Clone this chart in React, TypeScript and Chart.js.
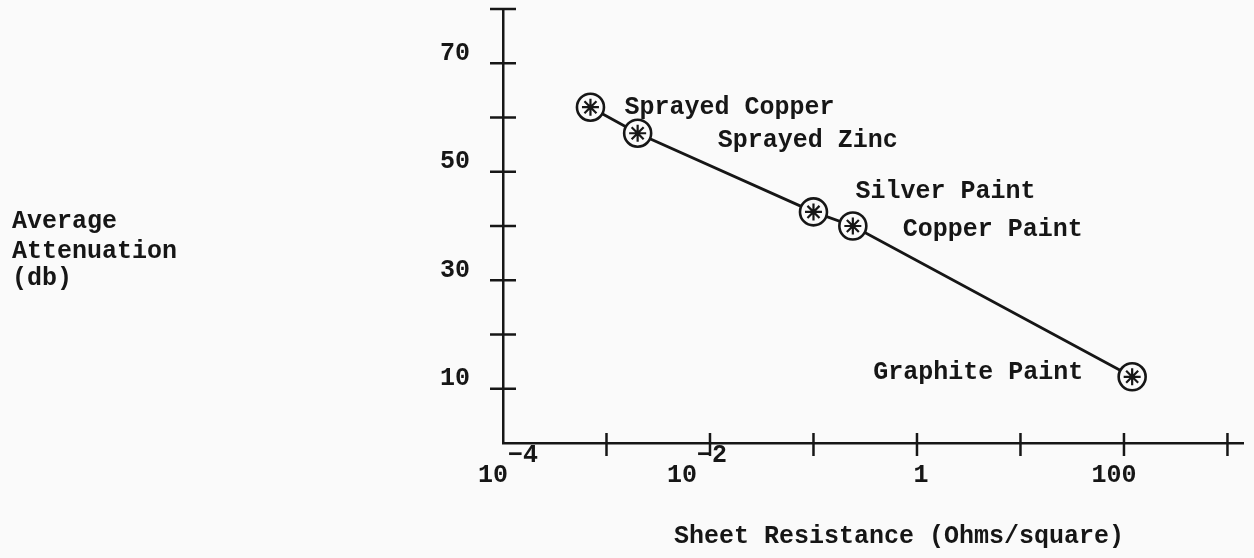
import React, { useEffect, useRef } from "react";
import { Chart, registerables } from "chart.js";

Chart.register(...registerables);

// ---- data ----
const materials = ["Sprayed Copper", "Sprayed Zinc", "Silver Paint", "Copper Paint", "Graphite Paint"];
const sheetResistance = [7e-4, 2e-3, 0.1, 0.24, 120];
const attenuation = [61.9, 57.1, 42.6, 40.0, 12.2];

const yTickValues = [10, 20, 30, 40, 50, 60, 70, 80];
const yTickLabels = ["10", "", "30", "", "50", "", "70", ""];

const xTickValues = [1e-4, 1e-3, 1e-2, 1e-1, 1, 10, 100, 1000];
const xTickBases = ["10", "", "10", "", "1", "", "100", ""];
const xTickExps = ["\u22124", "", "\u22122", "", "", "", "", ""];

const yTitleLines = ["Average", "Attenuation", "(db)"];
const xTitle = "Sheet Resistance (Ohms/square)";

// ---- style ----
const FONT = '"Liberation Mono", "DejaVu Sans Mono", monospace';
const INK = "#161616";
const PAPER = "#fafafa";
const FONT_SIZE = 25;

// typewritten label nudges (px) relative to each x tick
const xLabelNudge = [5, 0, -13, 0, 4, 0, -10, 0];

// label placement relative to each marker: [dx, dy, align]
const labelPlacement: [number, number, CanvasTextAlign][] = [
  [34, 1, "left"],
  [80, 7, "left"],
  [42, -20, "left"],
  [50, 4, "left"],
  [-49, -4, "right"],
];

const paperPlugin = {
  id: "paper",
  beforeDraw(chart: any) {
    const { ctx, width, height } = chart;
    ctx.save();
    ctx.fillStyle = PAPER;
    ctx.fillRect(0, 0, width, height);
    ctx.restore();
  },
};

const decorPlugin = {
  id: "decor",
  afterDraw(chart: any) {
    const ctx = chart.ctx as CanvasRenderingContext2D;
    const xs = chart.scales.x;
    const ys = chart.scales.y;
    const area = chart.chartArea;
    ctx.save();
    ctx.strokeStyle = INK;
    ctx.fillStyle = INK;
    ctx.lineWidth = 2.5;

    // y tick marks (crossing the axis)
    yTickValues.forEach((v) => {
      const y = ys.getPixelForValue(v);
      ctx.beginPath();
      ctx.moveTo(area.left - 13, y);
      ctx.lineTo(area.left + 13, y);
      ctx.stroke();
    });

    // x tick marks (crossing the axis)
    xTickValues.forEach((v, i) => {
      if (i === 0) return;
      const x = xs.getPixelForValue(v);
      ctx.beginPath();
      ctx.moveTo(x, area.bottom - 10);
      ctx.lineTo(x, area.bottom + 13);
      ctx.stroke();
    });

    ctx.font = `bold ${FONT_SIZE}px ${FONT}`;
    ctx.textBaseline = "middle";

    // y tick labels (sitting a little above their ticks)
    ctx.textAlign = "right";
    yTickValues.forEach((v, i) => {
      const lab = yTickLabels[i];
      if (!lab) return;
      ctx.fillText(lab, area.left - 33, ys.getPixelForValue(v) - 10);
    });

    // x tick labels with raised exponents
    xTickValues.forEach((v, i) => {
      const base = xTickBases[i];
      if (!base) return;
      const exp = xTickExps[i];
      const wb = ctx.measureText(base).width;
      const we = exp ? ctx.measureText(exp).width : 0;
      const x = xs.getPixelForValue(v) + xLabelNudge[i];
      const start = x - (wb + we) / 2;
      ctx.textAlign = "left";
      ctx.fillText(base, start, area.bottom + 33);
      if (exp) ctx.fillText(exp, start + wb, area.bottom + 13);
    });

    // y axis title (left, multi-line)
    ctx.textAlign = "left";
    const yTitleY = [222, 252, 279];
    yTitleLines.forEach((line, i) => ctx.fillText(line, 12, yTitleY[i]));

    // x axis title
    ctx.textAlign = "center";
    ctx.fillText(xTitle, 899, area.bottom + 94);

    // point annotations
    materials.forEach((name, i) => {
      const px = xs.getPixelForValue(sheetResistance[i]);
      const py = ys.getPixelForValue(attenuation[i]);
      const [dx, dy, align] = labelPlacement[i];
      ctx.textAlign = align;
      ctx.fillText(name, px + dx, py + dy);
    });

    ctx.restore();
  },
};

export default function App() {
  const canvasRef = useRef<HTMLCanvasElement | null>(null);

  useEffect(() => {
    const canvas = canvasRef.current;
    if (!canvas) return;
    const points = sheetResistance.map((x, i) => ({ x, y: attenuation[i] }));
    const chart = new Chart(canvas, {
      type: "line",
      data: {
        datasets: [
          {
            data: points,
            borderColor: INK,
            borderWidth: 2.8,
            tension: 0,
            pointStyle: "circle",
            pointRadius: 13.5,
            pointBackgroundColor: PAPER,
            pointBorderColor: INK,
            pointBorderWidth: 2.6,
            order: 1,
          },
          {
            data: points,
            showLine: false,
            pointStyle: "star",
            pointRadius: 8.5,
            pointBorderColor: INK,
            pointBackgroundColor: INK,
            pointBorderWidth: 2.2,
            order: 0,
          },
        ],
      },
      options: {
        animation: false,
        responsive: false,
        events: [],
        layout: { autoPadding: false, padding: { left: 0, top: 9, right: 11, bottom: 0 } },
        plugins: {
          legend: { display: false },
          tooltip: { enabled: false },
        },
        scales: {
          x: {
            type: "logarithmic",
            min: 1e-4,
            max: 1413,
            ticks: { display: false },
            grid: { display: false, drawTicks: false },
            border: { display: true, color: INK, width: 2.5 },
            afterFit: (s: any) => {
              s.height = 115;
            },
          },
          y: {
            type: "linear",
            min: 0,
            max: 80,
            ticks: { display: false, stepSize: 10 },
            grid: { display: false, drawTicks: false },
            border: { display: true, color: INK, width: 2.5 },
            afterFit: (s: any) => {
              s.width = 503;
            },
          },
        },
      },
      plugins: [paperPlugin, decorPlugin],
    } as any);
    return () => chart.destroy();
  }, []);

  return (
    <div style={{ position: "fixed", left: 0, top: 0, width: 1254, height: 558 }}>
      <canvas ref={canvasRef} width={1254} height={558} style={{ display: "block" }} />
    </div>
  );
}
